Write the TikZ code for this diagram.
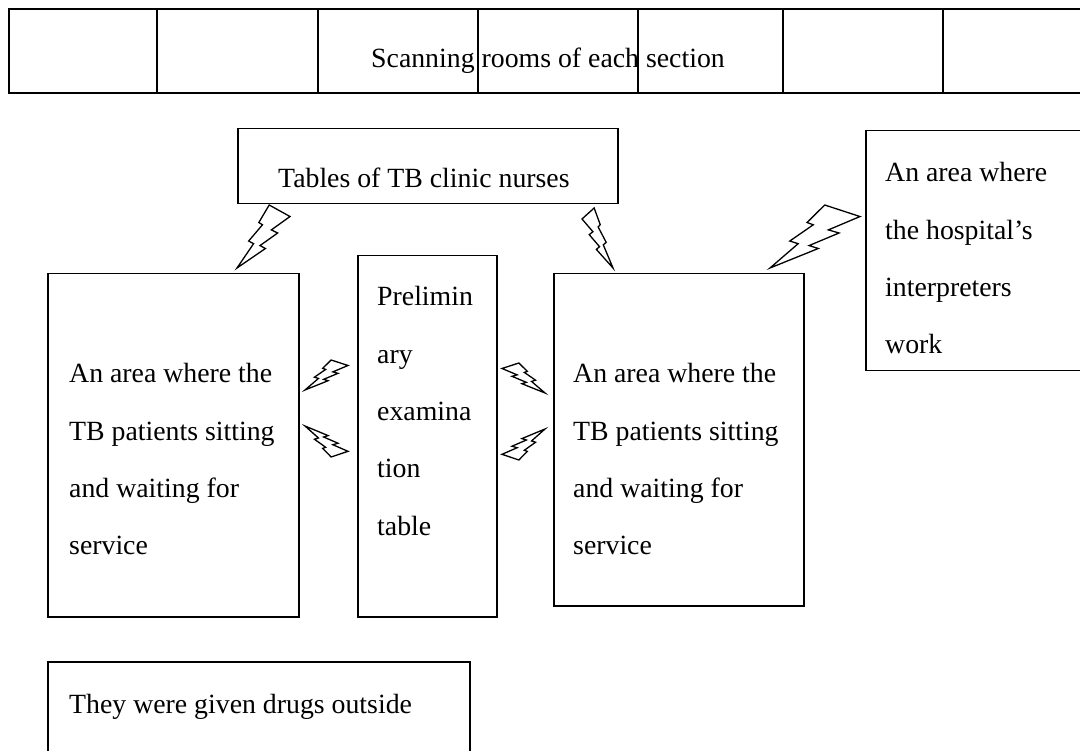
\documentclass[tikz,border=0pt]{standalone}
\usepackage{fontspec}
\setmainfont{Liberation Serif}

% lightning bolt: broad end corner at (#1,#2), extent (#3,#4) towards the tip
\newcommand{\zapshape}[4]{%
  \begin{scope}[shift={(#1,#2)}, xscale=#3, yscale=#4]
    \draw[boltline] (0.3922,0) -- (0.5882,0.2778) -- (0.5192,0.3141)
      -- (0.7801,0.5719) -- (0.6869,0.6141) -- (1,1) -- (0.4635,0.6905)
      -- (0.5658,0.6440) -- (0.2325,0.4444) -- (0.3519,0.3954)
      -- (0,0.1830) -- cycle;
  \end{scope}}

\newcommand{\multiline}[1]{\parbox[t]{250pt}{\raggedright #1}}

\begin{document}
\begin{tikzpicture}[x=1pt, y=-1pt,
  area/.style={draw=black, line width=1.5pt, rectangle, inner sep=0pt, anchor=north west},
  txt/.style={inner sep=0pt, anchor=base west, font=\fontsize{27.8pt}{57.3pt}\selectfont},
  boltline/.style={draw=black, line width=1.3pt, line join=miter, fill=white},
  tableborder/.style={draw=black, line width=2pt},
  tablerule/.style={draw=black, line width=1.2pt},
]
\useasboundingbox (0,0) rectangle (1080,751);
\fill[white] (0,0) rectangle (1080,751);
\clip (0,0) rectangle (1080,751);

% row of scanning rooms
\draw[tableborder] (9,9) rectangle (1100,93);
\foreach \x in {157,318,478,638,783,943}
  \draw[tablerule] (\x,9) -- (\x,93);
\node[txt] (scan) at (371,68) {Scanning rooms of each section};

% nurses' tables
\node[area, minimum width=380pt, minimum height=75pt] (nurses) at (237,128) {};
\node[txt] (nursestxt) at (278,188) {Tables of TB clinic nurses};

% interpreters
\node[area, minimum width=240pt, minimum height=240pt] (interp) at (865,130) {};
\node[txt] (interptxt) at (885,182) {\multiline{An area where\\the hospital’s\\interpreters\\work}};

% waiting area, left
\node[area, minimum width=251pt, minimum height=343pt] (leftwait) at (47,273) {};
\node[txt] (lefttxt) at (69,383) {\multiline{An area where the\\TB patients sitting\\and waiting for\\service}};

% preliminary examination table
\node[area, minimum width=139pt, minimum height=361pt] (prelim) at (357,255) {};
\node[txt] (prelimtxt) at (377,306) {\multiline{Prelimin\\ary\\examina\\tion\\table}};

% waiting area, right
\node[area, minimum width=250pt, minimum height=332pt] (rightwait) at (553,273) {};
\node[txt] (righttxt) at (573,383) {\multiline{An area where the\\TB patients sitting\\and waiting for\\service}};

% drugs given outside
\node[area, minimum width=422pt, minimum height=120pt] (drugs) at (47,661) {};
\node[txt] (drugstxt) at (69,713) {They were given drugs outside};

% lightning bolts between the areas
\zapshape{290}{205}{-53}{63}
\zapshape{582}{208}{31}{60}
\zapshape{860}{205}{-90}{63}
\zapshape{348}{360}{-43}{30}
\zapshape{348}{457}{-43}{-31}
\zapshape{502}{363}{43}{30}
\zapshape{502}{460}{43}{-31}
\end{tikzpicture}
\end{document}
